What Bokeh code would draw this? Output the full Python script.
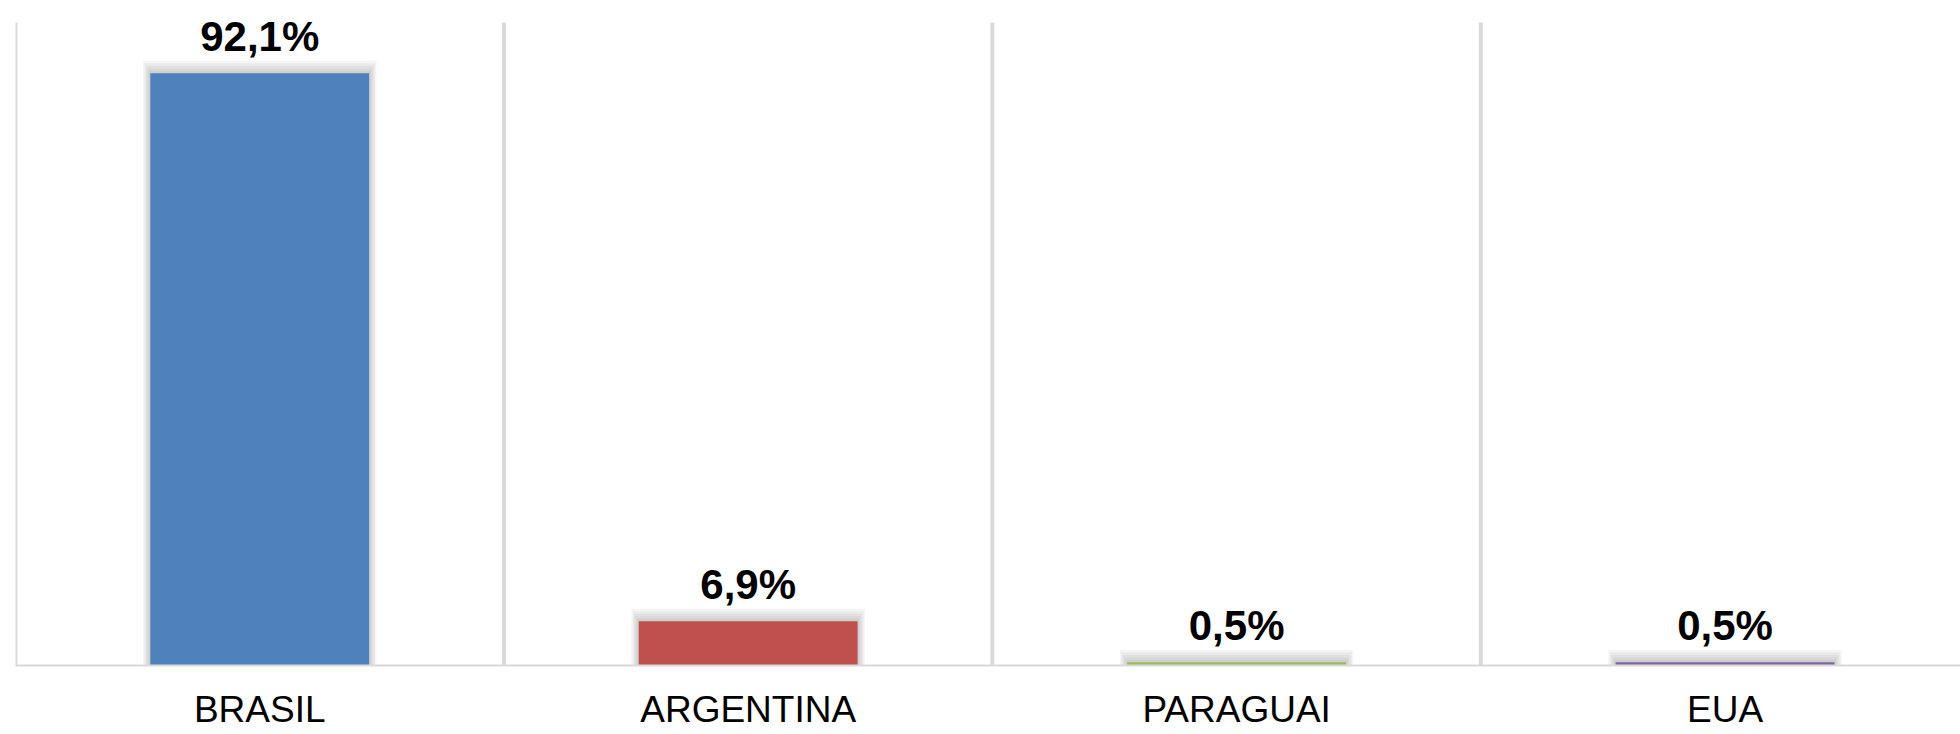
from bokeh.plotting import figure
from bokeh.models import ColumnDataSource, Range1d, FixedTicker
from bokeh.core.properties import value
from bokeh.embed import file_html
from bokeh.resources import INLINE

# ---- data ----
categories = ["BRASIL", "ARGENTINA", "PARAGUAI", "EUA"]
shares = [92.1, 6.9, 0.5, 0.5]
colors = ["#4F81BD", "#C0504D", "#9BBB59", "#8064A2"]
value_labels = [f"{v:.1f}".replace(".", ",") + "%" for v in shares]
axis_max = 100

x_pos = [i + 0.5 for i in range(len(categories))]
boundaries = list(range(len(categories) + 1))

W, H = 1960, 734
px_per_unit = 643.0 / axis_max          # vertical pixels per percentage point
y_top = 665.0 / px_per_unit             # leave room above 100% for labels

p = figure(width=W, height=H, output_backend="svg", toolbar_location=None,
           x_range=Range1d(0, 3.982), y_range=Range1d(0, y_top),
           y_axis_location=None, min_border_left=15, min_border_right=0,
           min_border_top=0, min_border_bottom=69)
p.outline_line_color = None
p.background_fill_color = "white"
p.border_fill_color = "white"
p.xgrid.grid_line_color = None
p.ygrid.grid_line_color = None

# vertical separators between categories (0 .. 100%)
p.segment(x0=boundaries, y0=[0] * len(boundaries), x1=boundaries,
          y1=[axis_max] * len(boundaries), line_color="#D9D9D9", line_width=4)

src = ColumnDataSource(dict(x=x_pos, top=shares, color=colors, label=value_labels))

# soft shadow (few translucent layers)
bar_w = 0.448
px_x = 1 / 488.5
px_y = 1 / px_per_unit
for k in range(1, 6):
    p.quad(left=[x - bar_w / 2 - k * 1.5 * px_x for x in x_pos],
           right=[x + bar_w / 2 + k * 1.5 * px_x for x in x_pos],
           bottom=[0] * 4,
           top=[s + k * 2.5 * px_y for s in shares],
           fill_color="#000000", fill_alpha=0.04, line_color=None)

p.vbar(x="x", top="top", width=bar_w, bottom=0, fill_color="color",
       line_color=None, source=src)

p.text(x="x", y="top", text="label", source=src, text_align="center",
       text_baseline="alphabetic", y_offset=-37,
       text_font=value("Liberation Sans"), text_font_style="bold",
       text_font_size="42px", text_color="black")

ax = p.xaxis[0]
ax.ticker = FixedTicker(ticks=x_pos)
ax.major_label_overrides = {x: c for x, c in zip(x_pos, categories)}
ax.axis_line_color = "#D9D9D9"
ax.axis_line_width = 2
ax.major_tick_line_color = None
ax.major_tick_out = 0
ax.major_tick_in = 0
ax.minor_tick_line_color = None
ax.minor_tick_out = 0
ax.minor_tick_in = 0
ax.major_label_standoff = 23
ax.major_label_text_font = "Liberation Sans"
ax.major_label_text_font_size = "37px"
ax.major_label_text_color = "black"

open("out.html", "w").write(file_html(p, INLINE))
